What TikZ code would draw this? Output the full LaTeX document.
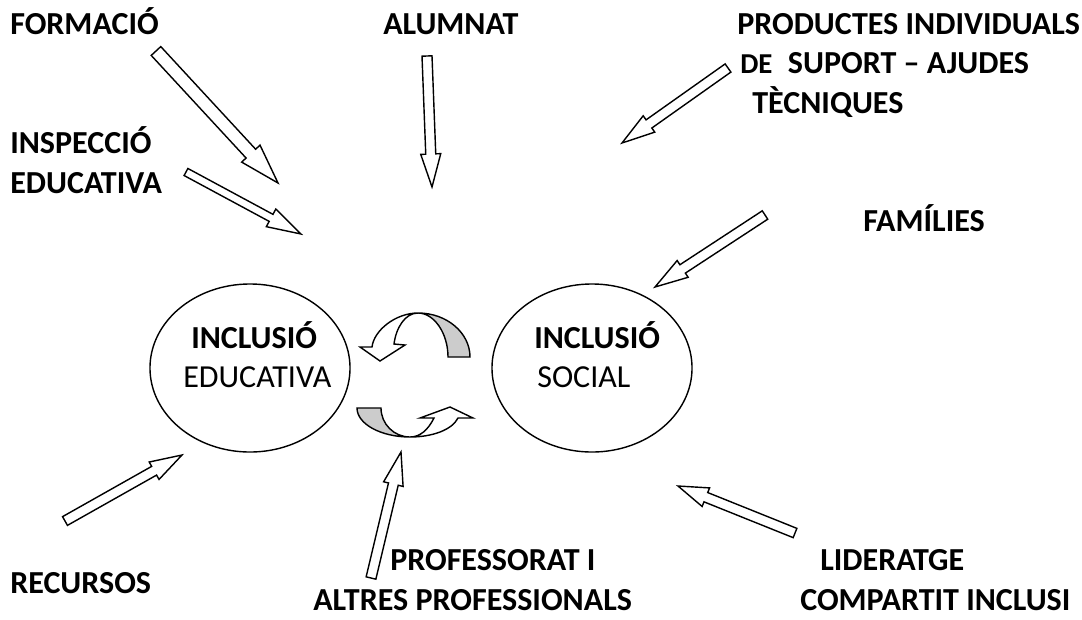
\documentclass[tikz,border=0pt]{standalone}
\usepackage{fontspec}
\setmainfont{Carlito}
\usetikzlibrary{calc,shapes.geometric}
\tikzset{
  lbl/.style={font=\bfseries\fontsize{22.8}{26}\selectfont, anchor=base west, inner sep=0pt},
  plain/.style={font=\fontsize{22.8}{26}\selectfont, anchor=base west, inner sep=0pt},
  incl/.style={draw, line width=1pt, ellipse, inner sep=0pt, minimum width=5cm, minimum height=4.2cm},
  barrow/.style={draw, fill=white, line width=1pt, line join=miter},
  turn/.style={draw, line width=1pt, line join=miter}
}
\newcommand\blockarrow[5]{%
  \pgfmathsetmacro\sw{#3*0.7113}%
  \pgfmathsetmacro\hw{#4*0.7113}%
  \pgfmathsetmacro\hl{#5*0.7113}%
  \coordinate (hb) at ($(#2)!\hl pt!(#1)$);
  \draw[barrow] ($(#1)!\sw pt!90:(#2)$) -- ($(hb)!\sw pt!90:(#2)$) -- ($(hb)!\hw pt!90:(#2)$) -- (#2)
    -- ($(hb)!\hw pt!-90:(#2)$) -- ($(hb)!\sw pt!-90:(#2)$) -- ($(#1)!\sw pt!-90:(#2)$) -- cycle;
}
\begin{document}
\begin{tikzpicture}[x=0.025cm, y=-0.025cm]
  \useasboundingbox (0,0) rectangle (1082,619);
  \node[lbl] (formacio) at (10,34) {FORMACIÓ};
  \node[lbl] (alumnat) at (383,34) {ALUMNAT};
  \node[lbl] (productes) at (737,34) {PRODUCTES INDIVIDUALS};
  \node[lbl] (suport) at (740,73) {{\fontsize{20.5}{22}\selectfont DE}\hspace{11pt}SUPORT – AJUDES};
  \node[lbl] (tecniques) at (752,113) {TÈCNIQUES};
  \node[lbl] (inspeccio) at (10,153) {INSPECCIÓ};
  \node[lbl] (educativa) at (10,193) {EDUCATIVA};
  \node[lbl] (families) at (863,231) {FAMÍLIES};
  \node[lbl] (recursos) at (10,593) {RECURSOS};
  \node[lbl] (professorat) at (390,570) {PROFESSORAT I};
  \node[lbl] (altres) at (313,610) {ALTRES PROFESSIONALS};
  \node[lbl] (lideratge) at (820,570) {LIDERATGE};
  \node[lbl] (compartit) at (800,610) {COMPARTIT INCLUSI};

  \node[incl] (edu) at (250,368) {};
  \node[incl] (soc) at (592,368) {};
  \node[lbl] (edu1) at (191,348) {INCLUSIÓ};
  \node[plain] (edu2) at (183,387) {EDUCATIVA};
  \node[lbl] (soc1) at (534,348) {INCLUSIÓ};
  \node[plain] (soc2) at (537,387) {SOCIAL};

  \coordinate (formacio-a) at (156,51);
  \coordinate (formacio-b) at (278,183);
  \coordinate (inspeccio-a) at (186,172);
  \coordinate (inspeccio-b) at (301,234);
  \coordinate (alumnat-a) at (427,56);
  \coordinate (alumnat-b) at (432,187);
  \coordinate (productes-a) at (728,68);
  \coordinate (productes-b) at (622,143);
  \coordinate (families-a) at (765,215);
  \coordinate (families-b) at (655,287);
  \coordinate (recursos-a) at (65,521);
  \coordinate (recursos-b) at (182,455);
  \coordinate (professorat-a) at (371,578);
  \coordinate (professorat-b) at (401,452);
  \coordinate (lideratge-a) at (795,533);
  \coordinate (lideratge-b) at (678,486);

  \blockarrow{formacio-a}{formacio-b}{6.5}{12.5}{40}
  \blockarrow{inspeccio-a}{inspeccio-b}{4}{10}{34}
  \blockarrow{alumnat-a}{alumnat-b}{5}{10}{33}
  \blockarrow{productes-a}{productes-b}{5}{10}{33}
  \blockarrow{families-a}{families-b}{5}{10}{33}
  \blockarrow{recursos-a}{recursos-b}{5}{10}{32}
  \blockarrow{professorat-a}{professorat-b}{5}{10}{33}
  \blockarrow{lideratge-a}{lideratge-b}{5}{10}{30}

  \draw[turn, fill=gray!40] (418,313) .. controls (447,313) and (470,333) .. (470,357) -- (448,357)
    .. controls (448,333) and (434,313) .. (418,313) -- cycle;
  \draw[turn, fill=white] (418,313) .. controls (396,313) and (374,330) .. (372,347) -- (360,347) -- (380,361)
    -- (405,345) -- (394,344) .. controls (396,328) and (405,313) .. (418,313) -- cycle;
  \draw[turn, fill=gray!40] (357,408) -- (381,408) .. controls (381,424) and (394,437) .. (410,437)
    .. controls (381,437) and (357,424) .. (357,408) -- cycle;
  \draw[turn, fill=white] (410,437) .. controls (432,437) and (452,430) .. (458,418) -- (473,418) -- (450,407)
    -- (420,418) -- (434,418) .. controls (428,430) and (420,437) .. (410,437) -- cycle;
\end{tikzpicture}
\end{document}
